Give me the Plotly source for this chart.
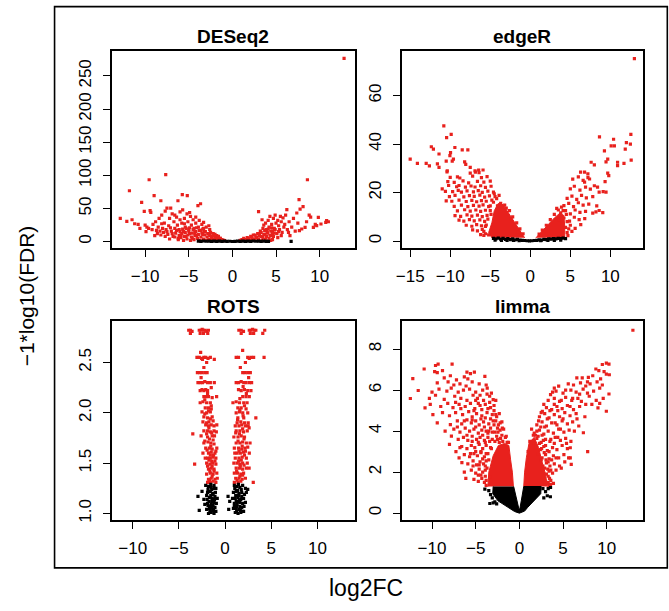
import plotly.graph_objects as go

W, H = 669, 611
RED = "#e8211d"
BLACK = "#000000"
FONT = "Liberation Sans, Arial, Helvetica, sans-serif"

# ---------------- DESeq2 ----------------
deseq2_red = [(-12.85,35.1),(-12.1,30.6),(-11.8,76.8),(-11.5,33),(-11.2,27),(-10.8,26),(-10.6,20),(-10.4,59.2),(-10.1,45.7),
    (-10.0,25),(-9.9,15),(-9.8,22),(-9.6,20),(-9.54,93.4),(-9.43,46.7),(-9.35,44.2),(-9.2,18),(-9.1,26),(-8.97,69.3),(-8.9,9),
    (-8.8,30),(-8.7,17),(-8.6,12),(-8.5,22),(-8.4,35),(-8.3,16),(-8.2,61.7),(-8.1,40),(-8.1,27),(-8.0,20),(-7.9,14),(-7.8,28),
    (-7.7,46),(-7.7,8),(-7.64,101),(-7.6,18),(-7.5,50.7),(-7.4,11),(-7.3,24),(-7.2,35),(-7.1,21),(-7.07,50.7),(-7.0,16),(-6.9,42),
    (-6.8,8),(-6.7,30),(-6.6,20),(-6.6,40),(-6.5,13),(-6.4,37),(-6.3,25),(-6.24,61.7),(-6.2,5),(-6.1,18),(-6.0,45),(-6.0,33),
    (-5.9,10),(-5.8,28),(-5.74,70.8),(-5.7,48),(-5.6,15),(-5.5,35),(-5.5,27),(-5.4,22),(-5.3,8),(-5.2,42),(-5.17,69.3),(-5.1,30),
    (-5.0,18),(-4.9,12),(-4.9,44),(-4.8,38),(-4.7,25),(-4.6,5),(-4.5,33),(-4.4,20),(-4.3,14),(-4.2,28),(-4.2,37),(-4.1,9),
    (-3.95,54.2),(-3.9,22),(-3.8,32),(-3.65,57.2),(-3.6,17),(-3.5,26),(-3.4,11),(-3.3,20),(-3.3,29),(-3.2,15),(-3.0,22),
    (-2.8,12),(-2.7,24),(-2.6,18),(-2.4,8),(-2.2,12),(-2.0,6),(-1.8,9),(-1.6,4),(-1.4,5),(-1.2,3),(-1.0,2),
    (-6.2,3),(-6.1,9),(-6.0,15),(-5.9,6),(-5.8,12),(-5.7,19),(-5.6,2),(-5.5,8),(-5.4,14),(-5.3,20),(-5.2,4),(-5.1,10),
    (-5.0,16),(-4.9,21),(-4.8,2),(-4.7,7),(-4.6,13),(-4.5,18),(-4.4,3),(-4.3,9),(-4.2,15),(-4.1,21),(-4.0,5),(-3.9,11),
    (-3.8,17),(-3.7,2),(-3.6,7),(-3.5,13),(-3.4,19),(-3.3,4),(-3.2,10),(-3.1,15),(-3.0,2),(-2.9,7),(-2.8,12),(-2.7,3),
    (-2.6,9),(-2.5,14),(-2.4,5),(-2.3,2),(-2.2,9),(-2.1,4),(-2.0,11),(-1.9,2),(-1.8,6),(-1.7,3),(-1.6,8),(-1.5,2),(-1.4,5),
    (-1.3,3),(-1.1,2),(-0.9,1.5),(-7.2,4),(-6.9,12),(-6.6,7),(-7.5,15),(-8.2,10),(-6.4,17),
    (0.9,1.5),(1.2,2),(1.5,3),(1.8,5),(2.0,2),(2.2,7),(2.5,4),(2.6,10),(2.8,6),(3.0,45.2),(3.0,12),(3.2,16),(3.3,8),(3.5,20),
    (3.4,33),(3.6,25),(3.7,11),(3.8,28),(3.9,18),(4.0,14),(4.1,32),(4.2,22),(4.3,38),(4.4,9),(4.5,26),(4.6,16),(4.7,35),
    (4.8,20),(4.9,40),(5.0,28),(5.1,12),(5.2,32),(5.3,24),(5.4,18),(5.5,38),(5.6,30),(5.7,14),(5.8,36),(5.9,22),(6.0,26),
    (6.1,40),(6.24,48.2),(6.3,18),(6.43,14),(6.5,30),(6.6,9),(6.8,22),(7.0,35),(7.2,16),(7.38,43.2),(7.5,28),(7.64,63.3),
    (7.68,16.6),(7.76,49.2),(7.95,19.1),(8.1,52.7),(8.33,21.6),(8.5,30),(8.6,93.4),(8.8,40),(8.97,37.1),(9.28,21.6),(9.5,26),
    (9.66,24.1),(9.85,36.6),(10.15,26.6),(10.7,29.1),(10.8,31.6),(11.0,30),(12.8,276.6),
    (0.9,2),(1.1,3),(1.3,5),(1.5,2),(1.7,6),(1.9,3),(2.1,8),(2.3,4),(2.4,10),(2.6,2),(2.7,7),(2.9,12),(3.0,4),(3.1,9),
    (3.3,14),(3.4,2),(3.5,6),(3.6,11),(3.7,17),(3.8,3),(3.9,8),(4.0,13),(4.1,19),(4.2,5),(4.3,10),(4.4,16),(4.5,21),(4.6,3),
    (4.7,8),(4.8,13),(4.9,18),(4.4,2),(4.6,12),(5.2,6),(5.6,9),(5.3,15)]
deseq2_black = [(-3.9,0.8),(-3.6,0.4),(-3.3,1.0),(-3.0,0.6),(-2.7,0.9),(-2.4,0.3),(-2.1,0.7),(-1.8,0.5),(-1.5,0.9),
    (-1.2,0.4),(-0.9,0.8),(-0.6,0.3),(-0.3,0.6),(0.0,0.2),(0.3,0.5),(0.6,0.9),(0.9,0.4),(1.2,0.8),(1.5,0.3),(1.8,0.7),
    (2.1,0.5),(2.4,1.0),(2.7,0.6),(3.0,0.9),(3.3,0.4),(3.6,0.8),(3.9,0.5),(4.14,0.5),(6.73,0.5)]

# ---------------- edgeR ----------------
edger_red = [(13.0,75.3),(-10.8,47.5),(-10.45,42.7),(-9.88,44),(-15.0,33.8),(-14.1,32),(-12.36,38.9),(-12.1,37.9),
    (-13.0,32),(-12.6,31),(-11.4,35.9),(-11.6,31.8),(-11.4,30.4),(-10.5,33),(-9.96,36.5),(-10.04,35.2),(-9.42,38.6),
    (-8.5,37.6),(-7.8,37.6),(-9.75,33),(-9.6,33.8),(-10.37,29),(-10.3,24.5),(-10.2,22.9),(-11.0,21.5),(-8.2,32.7),
    (-8.06,31.6),(-7.5,30.4),(-6.45,29.3),(-5.9,29.3),(-6.86,28.4),
    (-6.9,29.0),(-6.4,28.2),(-10.4,28.5),(-7.5,28.0),
    (-9.1,26.5),(-8.8,26.0),(-7.2,26.8),(-6.1,26.2),(-5.4,26.6),(-10.0,26.3),
    (-9.5,24.2),(-8.4,24.8),(-7.7,24.0),(-6.6,24.6),(-5.8,24.3),(-5.0,24.7),
    (-9.2,22.4),(-8.9,22.9),(-8.1,22.2),(-7.4,22.7),(-6.9,22.3),(-6.2,22.8),(-5.6,22.1),(-4.9,22.6),
    (-9.7,20.4),(-9.0,20.9),(-8.6,20.2),(-7.9,20.7),(-7.1,20.3),(-6.5,20.8),(-6.0,20.1),(-5.3,20.6),(-4.6,20.2),(-10.6,20.5),
    (-10.1,18.3),(-9.4,18.8),(-8.3,18.2),(-7.6,18.7),(-7.0,18.4),(-6.3,18.9),(-5.7,18.1),(-5.1,18.6),(-4.4,18.3),
    (-9.8,16.4),(-8.9,16.9),(-8.0,16.3),(-7.3,16.8),(-6.7,16.2),(-6.1,16.7),(-5.5,16.4),(-4.8,16.9),(-10.5,16.6),
    (-9.5,14.3),(-8.6,14.8),(-7.8,14.2),(-7.1,14.7),(-6.4,14.4),(-5.9,14.9),(-5.2,14.2),
    (-9.1,12.4),(-8.2,12.9),(-7.5,12.3),(-6.8,12.8),(-6.2,12.2),(-5.6,12.7),(-5.0,12.5),
    (-9.4,10.5),(-8.7,10.2),(-7.9,10.8),(-7.3,10.3),(-6.6,10.7),(-6.0,10.1),(-5.4,10.6),
    (-8.9,8.6),(-8.3,8.2),(-7.6,8.8),(-7.0,8.3),(-6.3,8.7),(-5.7,8.1),
    (-8.0,6.5),(-7.3,6.1),(-6.7,6.8),(-6.1,6.3),(-5.5,6.6),
    (-7.2,4.6),(-6.6,4.2),(-6.0,4.8),(-6.2,2.6),(-5.8,2.3),
    (-4.6,16),(-4.2,17.5),(-3.7,15.5),(-5.0,14.5),(-4.9,11),(-5.3,9),(-5.6,6),(-5.8,4),(-5.2,2.5),(-3.2,14.8),(-2.6,12.5),
    (-2.2,10),(-1.7,7.5),(-1.3,5),(-0.9,3),(-4.5,19.5),(-3.9,18.8),(-4.1,14.5),(-5.6,3),(-3.0,13.6),(-2.4,9),(-1.5,3.8),
    (8.64,43),(10.4,42),(9.26,37.2),(9.67,33.8),(9.46,32.7),(7.6,32.5),(8.0,31.4),(10.9,32.5),(10.9,31.1),(12.56,44),
    (12.5,40),(12.0,40.6),(11.86,37.9),(12.6,33.4),(11.7,32),(10.1,39.3),(10.5,39.3),(7.19,27.7),(6.78,28.4),(9.67,28),
    (9.8,27),(9.34,24.5),(8.4,22.2),(8.6,20.2),(9.1,20.4),(9.46,20.2),(9.05,11.7),(8.2,12),(6.28,28.4),(6.78,24.3),(7.4,25.6),
    (5.3,25.5),(6.0,26.5),(6.6,25.0),(7.2,26.2),
    (5.0,21.5),(5.5,22.6),(6.2,21.0),(6.9,22.2),(7.5,21.4),(8.0,22.8),
    (4.6,17.6),(5.2,18.5),(5.8,17.2),(6.4,18.8),(7.0,17.8),(7.8,18.3),
    (4.2,14.6),(4.8,15.5),(5.4,14.2),(6.0,15.8),(6.6,14.8),(7.3,15.2),(8.3,14.5),
    (3.8,11.6),(4.4,12.5),(5.0,11.2),(5.6,12.8),(6.2,11.8),(6.9,12.2),(7.8,11.5),(8.6,12.6),
    (3.6,8.6),(4.2,9.5),(4.9,8.2),(5.5,9.8),(6.1,8.8),(6.8,9.2),
    (4.4,5.6),(5.0,6.5),(5.6,5.2),(6.3,6.8),(4.6,3.5),(5.2,4.0),
    (4.6,8),(4.5,11),(4.1,12.5),(3.5,12.8),(3.0,11),(2.5,8.8),(2.0,6.5),(1.5,4.5),(1.1,2.8),(4.7,2.2),(4.8,5),(3.9,14),(3.3,13.5)]
edger_core_left = [(-0.7,1.3),(-1.2,3.8),(-2.0,7.5),(-2.8,12),(-3.4,15),(-4.0,15.5),(-4.5,12.5),(-4.8,7.5),(-5.2,3.5),(-4.8,1.3)]
edger_core_right = [(0.7,1.3),(1.4,3.8),(2.2,6.8),(3.0,9.5),(3.7,11.5),(4.2,10.5),(4.3,6),(4.3,1.3)]
edger_black = [(-4.6,1.1),(-4.3,0.9),(-4.0,1.2),(-3.7,0.8),(-3.4,1.1),(-3.1,0.7),(-2.8,1.0),(-2.5,0.6),(-2.2,0.9),(-1.9,0.5),
    (-1.6,0.7),(-1.3,0.4),(-1.0,0.3),(-0.7,0.2),(-0.4,0.1),(-0.1,0.05),(0.2,0.1),(0.5,0.2),(0.8,0.3),(1.1,0.5),(1.4,0.4),
    (1.7,0.7),(2.0,0.6),(2.3,0.9),(2.6,0.8),(2.9,1.0),(3.2,0.9),(3.5,1.1),(3.8,1.0),(4.1,1.2),(4.4,1.0),
    (-4.4,0.4),(-3.6,0.3),(-2.9,0.2),(-2.1,0.2),(-1.4,0.1),(1.3,0.1),(2.2,0.2),(3.0,0.3),(3.8,0.4)]

# ---------------- ROTS ----------------
rots_red = [(-3.94,2.82),(-3.76,2.82),(-3.58,2.81),(-2.8,2.82),(-2.62,2.82),(-2.48,2.83),(-2.34,2.82),(-2.16,2.82),(-1.99,2.81),(-1.81,2.82),
    (-3.76,2.79),(-2.7,2.79),(-2.34,2.79),(-1.88,2.79),
    (-3.05,2.55),(-2.8,2.55),(-2.55,2.54),(-2.3,2.55),(-2.1,2.55),(-1.85,2.54),(-1.6,2.55),(-1.17,2.53),(-2.45,2.53),
    (-3.0,2.40),(-2.75,2.40),(-2.5,2.40),(-2.2,2.40),(-1.95,2.40),
    (-2.94,2.30),(-2.7,2.30),(-2.45,2.30),(-2.2,2.31),(-1.9,2.30),(-1.6,2.30),(-1.17,2.30),
    (-2.5,2.23),(-2.3,2.22),(-2.1,2.23),(-1.9,2.22),
    (-2.3,2.16),(-2.1,2.16),(-1.8,2.16),(-1.4,2.15),(-0.92,2.16),
    (-2.7,2.10),(-2.4,2.11),(-2.0,2.10),(-1.6,2.10),
    (-2.15,2.05),(-1.8,2.05),(-1.5,2.04),
    (-2.5,2.01),(-2.0,2.00),(-1.6,2.01),
    (-2.3,1.96),(-1.9,1.95),(-1.4,1.96),
    (-2.4,1.91),(-2.0,1.90),(-1.75,1.91),
    (-2.1,1.88),(-1.8,1.87),(-1.5,1.88),(-1.2,1.87),(-0.9,1.88),
    (-2.3,1.82),(-1.9,1.82),(-1.6,1.81),(-1.2,1.82),(-0.95,1.81),(-3.5,1.79),
    (-2.6,1.77),(-1.9,1.76),(-1.4,1.77),
    (-2.3,1.70),(-1.85,1.71),(-1.55,1.70),(-1.2,1.69),
    (-2.1,1.65),(-1.7,1.65),(-1.4,1.64),(-0.9,1.65),
    (-2.4,1.60),(-1.8,1.60),(-1.5,1.61),(-1.1,1.60),
    (-1.9,1.55),(-1.6,1.55),(-1.3,1.56),(-1.0,1.55),
    (-3.3,1.49),(-2.0,1.50),(-1.65,1.49),(-1.35,1.50),(-1.0,1.49),
    (-1.8,1.44),(-1.5,1.45),(-1.2,1.44),
    (-2.0,1.39),(-1.6,1.40),(-1.3,1.39),(-0.9,1.40),
    (-1.8,1.34),(-1.5,1.35),(-1.1,1.34),(-0.85,1.35),
    (-1.9,1.31),(-1.6,1.31),(-1.3,1.32),(-1.0,1.31),
    (-1.7,1.33),(-1.4,1.37),(-1.2,1.42),(-1.65,1.42),(-1.9,1.47),(-1.45,1.52),(-1.75,1.53),(-1.25,1.58),(-1.6,1.58),
    (-1.95,1.63),(-1.55,1.67),(-1.3,1.73),(-1.7,1.74),(-2.0,1.79),(-1.45,1.80),(-1.75,1.85),(-1.3,1.92),(-1.6,1.94),
    (-2.2,1.99),(-1.8,2.02),(-1.5,2.07),(-2.2,2.13),(-1.9,2.19),(-2.7,2.22),(-1.5,2.25),(-2.6,2.35),(-2.3,2.45),(-2.0,2.50),
    (-2.65,2.60),(-1.4,1.47),(-1.1,1.52),(-2.2,1.72),(-1.0,1.62),(-1.15,1.77),(-2.15,1.55),
    (1.49,2.82),(1.74,2.82),(1.99,2.81),(2.62,2.82),(2.8,2.82),(2.98,2.83),(3.16,2.82),(3.33,2.82),(4.29,2.82),
    (1.74,2.79),(2.73,2.79),(3.09,2.79),(4.08,2.79),
    (1.2,2.55),(1.45,2.55),(2.45,2.55),(2.62,2.54),(2.8,2.55),(3.09,2.55),(4.22,2.55),
    (1.91,2.40),(2.16,2.40),(2.45,2.40),(2.73,2.40),
    (1.2,2.30),(1.45,2.30),(1.74,2.31),(2.02,2.30),(2.27,2.30),(2.62,2.30),(2.87,2.30),
    (1.45,2.23),(1.74,2.22),(2.09,2.23),(2.45,2.22),(2.8,2.22),
    (1.91,2.16),(2.27,2.16),(2.62,2.16),
    (0.85,2.10),(1.2,2.11),(1.56,2.10),(2.02,2.10),(2.38,2.10),
    (1.38,2.05),(1.74,2.05),(2.27,2.04),
    (1.2,2.00),(1.56,2.01),(1.91,2.00),(2.45,2.00),
    (1.38,1.95),(2.02,1.95),(3.33,1.95),
    (1.3,1.90),(1.7,1.91),(2.1,1.90),(2.5,1.90),
    (1.1,1.87),(1.5,1.87),(1.8,1.88),(2.2,1.87),(2.5,1.87),
    (1.2,1.82),(1.6,1.82),(2.0,1.81),(2.4,1.82),
    (0.95,1.76),(1.4,1.76),(1.75,1.77),(2.1,1.76),
    (1.2,1.70),(1.6,1.70),(1.9,1.71),(2.3,1.70),(2.7,1.70),
    (1.0,1.65),(1.45,1.65),(1.8,1.64),(2.15,1.65),
    (1.3,1.60),(1.65,1.60),(2.0,1.61),(2.62,1.60),
    (1.1,1.55),(1.5,1.55),(1.85,1.56),(2.3,1.55),
    (0.95,1.50),(1.3,1.50),(1.6,1.49),(1.9,1.50),(2.4,1.50),
    (1.2,1.45),(1.55,1.45),(1.9,1.44),(2.3,1.45),
    (1.0,1.40),(1.35,1.40),(1.7,1.39),(2.0,1.40),
    (1.15,1.35),(1.5,1.35),(1.85,1.34),(2.2,1.35),
    (1.0,1.31),(1.4,1.31),(1.7,1.32),(3.05,1.31),
    (1.3,1.33),(1.6,1.37),(1.9,1.38),(1.25,1.42),(1.65,1.47),(2.05,1.48),(1.45,1.52),(1.75,1.53),(2.1,1.58),(1.5,1.62),
    (1.85,1.67),(2.45,1.66),(1.4,1.72),(2.05,1.74),(1.55,1.79),(1.9,1.84),(1.35,1.93),(1.95,1.97),(1.6,2.03),(2.1,2.07),
    (1.6,2.14),(2.3,2.19),(1.95,2.26),(2.55,2.35),(1.65,2.45),(2.2,2.50),(1.9,2.62),(2.6,1.45),(1.05,1.60),(1.15,1.80),
    (2.6,1.85),(2.2,1.62)]
rots_black = [(-2.1,1.28),(-1.8,1.27),(-1.5,1.26),(-1.2,1.28),(-1.0,1.25),(-2.5,1.22),(-1.9,1.21),(-1.6,1.22),(-1.3,1.20),
    (-1.05,1.21),(-1.7,1.16),(-1.4,1.15),(-1.1,1.17),(-2.3,1.14),(-2.94,1.17),(-1.9,1.10),(-1.5,1.09),(-1.2,1.11),(-0.95,1.10),
    (-1.7,1.05),(-1.35,1.04),(-1.1,1.06),(-2.0,1.04),(-2.8,1.03),(-1.5,1.01),(-1.2,1.00),(-1.8,1.00),
    (-1.45,1.24),(-1.25,1.13),(-1.6,1.07),(-1.0,1.02),(-1.75,1.12),(-1.35,1.19),
    (-1.55,1.29),(-1.85,1.24),(-1.15,1.25),(-2.0,1.18),(-1.55,1.18),(-1.3,1.08),(-1.85,1.08),(-1.45,1.12),(-1.15,1.14),
    (-1.65,1.02),(-1.4,1.06),(-2.2,1.09),(-1.25,1.03),(-0.85,1.15),(-1.95,1.14),
    (1.0,1.28),(1.3,1.27),(1.6,1.26),(1.9,1.28),(2.2,1.25),(2.45,1.24),(0.9,1.21),(1.2,1.22),(1.5,1.20),(1.8,1.21),(2.1,1.19),
    (1.1,1.15),(1.4,1.16),(1.7,1.14),(2.0,1.15),(0.32,1.17),(1.0,1.10),(1.3,1.09),(1.6,1.11),(1.9,1.10),(0.5,1.12),
    (1.2,1.05),(1.5,1.04),(1.8,1.06),(0.39,1.04),(0.9,1.05),(1.1,1.01),(1.4,1.00),(1.7,1.01),(2.0,1.02),
    (1.35,1.23),(1.55,1.13),(1.25,1.07),(1.65,1.03),(1.15,1.18),
    (1.45,1.29),(1.75,1.24),(1.05,1.25),(2.3,1.21),(1.45,1.18),(1.2,1.12),(1.8,1.17),(1.6,1.07),(1.35,1.12),(2.2,1.11),
    (1.0,1.07),(1.85,1.02),(1.25,1.02),(0.8,1.15),(2.05,1.07)]

# ---------------- limma ----------------
limma_red = [(13.0,8.92),
    (-9.3,7.27),(-7.7,7.27),(-9.6,7.2),(-10.9,7.03),(-9.7,6.9),(-9.4,6.85),(-8.8,6.95),(-6.0,6.88),(-5.15,6.88),(-5.6,6.8),
    (-12.2,6.56),(-8.6,6.6),(-7.2,6.5),(-6.3,6.65),(-3.95,6.67),(-5.9,6.55),(-7.9,6.7),
    (-9.4,6.35),(-8.16,6.4),(-7.5,6.25),(-6.8,6.3),(-6.1,6.2),(-5.4,6.4),(-4.6,6.3),(-3.8,6.25),
    (-11.58,5.98),(-10.0,5.9),(-9.2,6.05),(-8.3,5.95),(-7.8,6.1),(-7.0,5.9),(-6.4,6.0),(-5.7,6.05),(-5.0,5.9),(-4.2,6.0),(-3.68,6.1),
    (-12.48,5.59),(-10.3,5.6),(-9.6,5.75),(-8.6,5.55),(-7.4,5.7),(-6.7,5.6),(-6.0,5.5),(-5.3,5.75),(-4.8,5.6),(-4.1,5.5),(-3.0,5.54),(-3.4,5.7),
    (-10.8,5.13),(-10.2,5.3),(-9.0,5.2),(-8.2,5.35),(-7.6,5.15),(-6.9,5.3),(-6.2,5.2),(-5.6,5.35),(-5.1,5.1),(-4.5,5.25),(-3.9,5.3),(-3.3,5.15),(-2.9,5.25),
    (-9.9,4.8),(-8.8,4.9),(-8.0,4.75),(-7.3,4.9),(-6.5,4.8),(-5.8,4.95),(-5.4,4.7),(-4.9,4.85),(-4.3,4.75),(-3.7,4.9),(-3.1,4.8),(-2.6,4.7),
    (-9.4,4.4),(-7.9,4.32),(-7.1,4.5),(-6.6,4.35),(-6.0,4.55),(-5.5,4.4),(-5.0,4.5),(-4.6,4.3),(-4.1,4.45),(-3.5,4.35),(-3.0,4.5),(-2.4,4.3),
    (-8.5,4.0),(-7.5,4.1),(-6.8,3.95),(-6.2,4.15),(-5.7,4.0),(-5.2,4.1),(-4.7,3.9),(-4.3,4.05),(-3.8,4.0),(-3.3,4.15),(-2.8,3.95),(-2.2,4.05),
    (-7.78,3.76),(-7.0,3.6),(-6.4,3.7),(-5.9,3.55),(-5.4,3.75),(-4.9,3.6),(-4.5,3.7),(-4.0,3.55),(-3.6,3.7),(-3.1,3.6),(-2.6,3.75),
    (-8.0,3.35),(-7.26,3.0),(-6.6,3.25),(-6.0,3.15),(-5.5,3.3),(-5.1,3.2),(-4.6,3.35),(-4.2,3.15),(-3.8,3.3),(-3.3,3.2),
    (-6.9,2.7),(-6.3,2.85),(-5.7,2.75),(-5.2,2.9),(-4.8,2.8),(-4.4,2.95),(-4.0,2.75),(-3.6,2.9),
    (-6.58,2.46),(-5.9,2.4),(-5.3,2.55),(-4.9,2.35),(-4.5,2.5),(-4.1,2.4),(-3.8,2.55),
    (-6.3,2.0),(-5.5,2.1),(-5.0,1.95),(-4.6,2.15),(-4.2,2.0),(-3.9,2.1),
    (-6.13,1.7),(-5.2,1.65),(-4.7,1.55),(-4.3,1.7),(-4.0,1.5),(-3.8,1.6),
    (-1.4,3.45),(-1.9,3.5),(-2.3,3.45),(-2.0,3.8),(-1.6,3.7),(-2.5,3.6),(-1.8,4.1),(-2.5,4.15),(-2.0,4.45),(-2.7,4.5),
    (-3.3,4.6),(-2.3,4.85),(-2.9,5.0),(-3.6,5.1),(-2.7,5.5),(-3.2,5.85),(-3.5,4.0),(-4.0,4.2),(-4.4,4.6),(-3.9,4.65),
    (-4.3,5.05),(-4.7,5.35),(-5.0,5.5),(-3.6,3.9),(-4.2,3.8),(-4.7,3.45),(-3.9,3.45),(-4.4,3.0),(-3.8,2.9),(-4.2,2.65),
    (-4.6,2.35),(-3.9,2.3),(-4.4,1.85),(-3.9,1.8),(-4.7,1.85),(-5.3,2.3),(-5.6,2.9),(-5.0,3.0),(-5.4,3.5),(-5.0,4.2),
    (-5.4,4.55),(-5.2,5.0),(-4.5,5.75),(-3.7,5.8),(-6.0,3.8),(-6.3,4.5),(-6.7,5.1),(-7.3,5.4),(-7.1,4.2),(-6.8,3.2),
    (-1.25,3.45),(-1.5,3.75),(-2.15,3.65),(-2.8,3.5),(-3.1,3.95),(-2.45,3.95),(-1.95,4.15),(-2.9,4.3),(-2.2,4.4),
    (-3.4,3.5),(-3.2,3.15),(-3.5,2.6),(-3.7,2.2),(-3.4,1.75),(-3.8,1.35),(-3.4,5.4),(-2.7,4.8),
    (9.96,7.32),(10.26,7.27),(9.5,7.25),(8.76,7.03),(9.1,6.95),(9.7,6.9),(9.96,6.78),
    (7.9,6.62),(6.58,6.6),(8.4,6.7),(9.3,6.55),(10.3,6.75),
    (4.5,6.19),(5.6,6.3),(6.2,6.25),(7.0,6.35),(7.6,6.2),(8.1,6.3),(8.9,6.4),(9.5,6.25),
    (3.57,5.78),(4.2,5.95),(5.0,5.85),(5.9,6.0),(6.5,5.9),(7.3,6.05),(7.8,5.85),(8.5,5.95),(9.2,6.1),(10.26,5.81),
    (3.3,5.5),(4.0,5.6),(4.6,5.45),(5.3,5.65),(6.0,5.5),(6.7,5.6),(7.1,5.45),(8.0,5.7),(8.8,5.5),(9.6,5.6),
    (2.63,4.97),(3.1,5.15),(3.7,5.05),(4.3,5.2),(4.9,5.1),(5.5,5.25),(6.2,5.05),(6.9,5.2),(9.0,5.13),(9.96,4.97),(9.2,5.35),
    (2.3,4.7),(2.9,4.85),(3.4,4.65),(4.0,4.8),(4.6,4.7),(5.2,4.9),(5.8,4.75),(6.5,4.85),(7.5,4.7),
    (2.0,4.3),(2.6,4.45),(3.1,4.25),(3.7,4.4),(4.3,4.3),(4.9,4.5),(5.5,4.35),(6.1,4.45),(6.8,4.25),
    (1.7,3.9),(2.3,4.05),(2.8,3.85),(3.3,4.0),(3.9,3.9),(4.5,4.1),(5.1,3.95),(5.7,4.05),(7.33,3.92),
    (1.5,3.5),(2.0,3.65),(2.5,3.45),(3.0,3.6),(3.5,3.5),(4.1,3.7),(4.7,3.55),(5.3,3.65),(5.9,3.5),
    (2.4,3.1),(2.8,3.25),(3.2,3.05),(3.8,3.2),(4.3,3.1),(4.9,3.3),(5.5,3.15),(5.83,3.19),(7.82,3.0),
    (2.6,2.7),(3.0,2.85),(3.4,2.65),(3.9,2.8),(4.5,2.7),(5.1,2.85),(5.64,2.7),(5.83,2.7),
    (2.7,2.3),(3.1,2.45),(3.5,2.3),(4.0,2.4),(4.6,2.3),(5.94,2.38),
    (3.1,1.9),(3.4,2.05),(3.8,1.95),(4.2,2.1),(3.3,1.5),(3.6,1.6),(3.9,1.45),(3.57,1.4),
    (1.2,3.5),(1.6,3.8),(1.9,3.3),(2.3,3.4),(1.4,4.1),(2.0,4.0),(2.6,3.8),(2.2,4.5),(2.9,4.2),(2.5,4.9),(3.2,4.6),
    (2.8,5.3),(3.5,5.0),(3.0,3.3),(3.4,3.0),(3.6,3.6),(3.3,2.5),(2.9,2.2),(3.7,2.6),(3.6,2.1),(3.3,1.8),(3.4,1.35),
    (4.2,2.7),(4.0,3.4),(4.4,3.7),(4.1,4.4),(4.7,4.1),(4.4,5.0),(5.0,4.6),(5.4,3.4),(5.2,2.5),(4.8,2.2),(6.3,4.0),
    (6.6,4.6),(6.1,5.6),(6.9,5.8),(7.6,5.3),(8.3,5.3),(7.8,6.4),(7.2,6.6),(5.8,5.2),(4.8,5.5),(4.0,5.3),(3.8,5.9),
    (5.3,6.0),(2.1,2.9),(2.5,2.6),
    (1.0,3.0),(1.35,3.4),(1.85,3.8),(2.45,4.2),(2.75,3.55),(2.15,3.75),(2.55,3.15),(2.85,2.95),(3.05,2.6),(3.25,2.15),
    (3.45,1.7),(3.15,1.45),(4.0,6.1)]
limma_core_left = [(-0.68,1.3),(-0.8,2.0),(-1.0,2.6),(-1.2,3.3),(-1.7,3.4),(-2.4,3.3),(-3.0,2.8),(-3.5,2.0),(-3.6,1.3)]
limma_core_right = [(0.5,1.3),(0.6,2.0),(0.8,2.7),(1.1,3.4),(1.7,3.7),(2.2,3.2),(2.6,2.5),(3.0,1.9),(3.2,1.3)]
limma_black_core = [(-3.0,1.3),(-3.05,0.95),(-2.45,0.6),(-1.3,0.28),(-0.55,0.08),(0.0,0.0),(0.6,0.1),(0.95,0.28),
    (1.7,0.6),(2.45,0.95),(2.5,1.3),(0.5,1.3),(0.22,0.6),(0.05,0.2),(-0.05,0.2),(-0.3,0.6),(-0.65,1.3)]
limma_black = [(-3.95,1.17),(-3.5,1.1),(-3.3,0.9),(-3.1,0.75),(-2.8,0.55),(-3.38,0.47),(-3.0,0.5),(-2.6,0.45),
    (2.7,1.2),(3.0,1.05),(3.3,1.2),(3.55,0.8),(3.2,0.85),(2.8,0.75),(3.57,1.25)]

# ---------------- layout geometry (pixels) ----------------
cols = [(106.5, 351.7), (399.2, 642.8)]
rows = [(51.3, 249.5), (323.0, 522.7)]

panels = [
    dict(title="DESeq2", col=0, row=0, xr=[-13.85, 14.0], yr=[-10, 287.5], xt=[-10, -5, 0, 5, 10], yt=[0, 50, 100, 150, 200, 250],
         red=deseq2_red, cores=[], black=deseq2_black, bcore=None),
    dict(title="edgeR", col=1, row=0, xr=[-16.07, 14.08], yr=[-3.0, 78.4], xt=[-15, -10, -5, 0, 5, 10], yt=[0, 20, 40, 60],
         red=edger_red, cores=[edger_core_left, edger_core_right], black=edger_black, bcore=None),
    dict(title="ROTS", col=0, row=1, xr=[-12.3, 14.02], yr=[0.934, 2.908], xt=[-10, -5, 0, 5, 10], yt=[1.0, 1.5, 2.0, 2.5],
         red=rots_red, cores=[], black=rots_black, bcore=None),
    dict(title="limma", col=1, row=1, xr=[-13.48, 14.16], yr=[-0.34, 9.35], xt=[-10, -5, 0, 5, 10], yt=[0, 2, 4, 6, 8],
         red=limma_red, cores=[limma_core_left, limma_core_right], black=limma_black, bcore=limma_black_core),
]

fig = go.Figure()
MS = 3.2


def px2x(p):
    return p / W


def px2y(p):
    return 1 - p / H


for i, p in enumerate(panels, start=1):
    xa = "x" if i == 1 else f"x{i}"
    ya = "y" if i == 1 else f"y{i}"
    c0, c1 = cols[p["col"]]
    r0, r1 = rows[p["row"]]
    for core in p["cores"]:
        fig.add_trace(go.Scatter(x=[q[0] for q in core], y=[q[1] for q in core], mode="lines", fill="toself",
                                 fillcolor=RED, line=dict(color=RED, width=1), xaxis=xa, yaxis=ya,
                                 hoverinfo="skip", showlegend=False))
    fig.add_trace(go.Scatter(x=[q[0] for q in p["red"]], y=[q[1] for q in p["red"]], mode="markers",
                             marker=dict(symbol="square", size=MS, color=RED, line=dict(width=0)),
                             xaxis=xa, yaxis=ya, showlegend=False))
    if p["bcore"]:
        bc = p["bcore"]
        fig.add_trace(go.Scatter(x=[q[0] for q in bc], y=[q[1] for q in bc], mode="lines", fill="toself",
                                 fillcolor=BLACK, line=dict(color=BLACK, width=1), xaxis=xa, yaxis=ya,
                                 hoverinfo="skip", showlegend=False))
    fig.add_trace(go.Scatter(x=[q[0] for q in p["black"]], y=[q[1] for q in p["black"]], mode="markers",
                             marker=dict(symbol="square", size=MS, color=BLACK, line=dict(width=0)),
                             xaxis=xa, yaxis=ya, showlegend=False))
    axcommon = dict(showline=True, mirror=True, linecolor="black", linewidth=1.6, ticks="outside", ticklen=7,
                    tickwidth=1.3, tickcolor="black", showgrid=False, zeroline=False,
                    tickfont=dict(family=FONT, size=17, color="black"), ticklabelstandoff=5)
    fig.layout[("xaxis" if i == 1 else f"xaxis{i}")] = dict(
        axcommon, domain=[px2x(c0), px2x(c1)], range=p["xr"], tickvals=p["xt"],
        ticktext=[("\u2212" + str(abs(v))) if v < 0 else str(v) for v in p["xt"]], anchor=ya)
    fig.layout[("yaxis" if i == 1 else f"yaxis{i}")] = dict(
        axcommon, domain=[px2y(r1), px2y(r0)], range=p["yr"], tickvals=p["yt"],
        ticktext=[(f"{v:.1f}" if isinstance(v, float) else str(v)) for v in p["yt"]], tickangle=-90, anchor=xa)
    fig.add_annotation(text="<b>" + p["title"] + "</b>", x=px2x((c0 + c1) / 2), y=px2y(r0 - 15),
                       xref="paper", yref="paper", showarrow=False, xanchor="center", yanchor="middle",
                       font=dict(family=FONT, size=19, color="black"))

fig.add_annotation(text="\u22121*log10(FDR)", x=px2x(21), y=px2y(297), xref="paper", yref="paper",
                   showarrow=False, textangle=-90, xanchor="center", yanchor="middle",
                   font=dict(family=FONT, size=21, color="black"))
fig.add_annotation(text="log2FC", x=px2x(363), y=px2y(591), xref="paper", yref="paper",
                   showarrow=False, xanchor="center", yanchor="middle",
                   font=dict(family=FONT, size=23, color="black"))
fig.add_shape(type="rect", xref="paper", yref="paper", x0=px2x(49), x1=px2x(667.3), y0=px2y(570.7), y1=px2y(6.7),
              line=dict(color="black", width=1.6))

fig.update_layout(width=W, height=H, margin=dict(l=0, r=0, t=0, b=0), paper_bgcolor="white",
                  plot_bgcolor="white", showlegend=False)

fig.write_html("out.html", config={"displayModeBar": False},
               post_script="document.body.style.margin='0';")
